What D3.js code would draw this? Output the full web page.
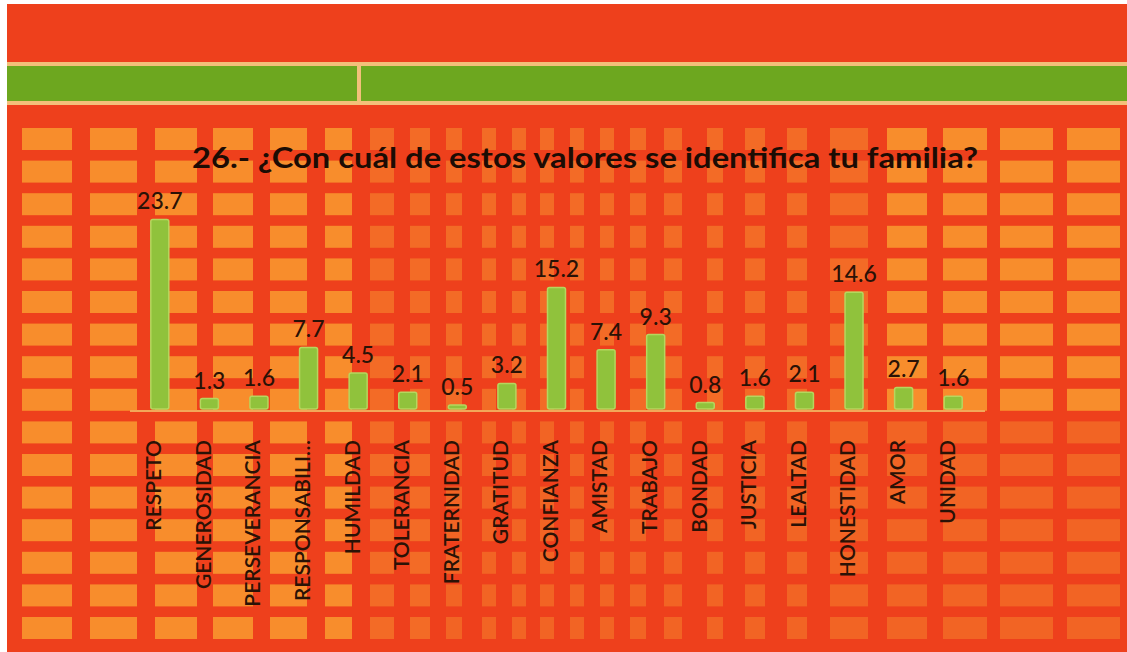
<!DOCTYPE html>
<html><head><meta charset="utf-8">
<script src="https://cdn.jsdelivr.net/npm/d3@7"></script>
<style>html,body{margin:0;padding:0;background:#fff;}svg{display:block;}</style>
</head><body>
<svg id="c" width="1127" height="652"></svg>
<script>
const title = "26.- ¿Con cuál de estos valores se identifica tu familia?";
const categories = ["RESPETO","GENEROSIDAD","PERSEVERANCIA","RESPONSABILI…","HUMILDAD","TOLERANCIA","FRATERNIDAD","GRATITUD","CONFIANZA","AMISTAD","TRABAJO","BONDAD","JUSTICIA","LEALTAD","HONESTIDAD","AMOR","UNIDAD"];
const values = [23.7,1.3,1.6,7.7,4.5,2.1,0.5,3.2,15.2,7.4,9.3,0.8,1.6,2.1,14.6,2.7,1.6];
const valueLabels = ["23.7","1.3","1.6","7.7","4.5","2.1","0.5","3.2","15.2","7.4","9.3","0.8","1.6","2.1","14.6","2.7","1.6"];

const svg = d3.select("#c");
const W = 1127, H = 652;

// background
svg.append("rect").attr("x",7).attr("y",4).attr("width",W-7).attr("height",H-4).attr("fill","#ee401c");

// decorative spreadsheet-like cells
const cellCols = [[22,72],[90,137],[155,197],[213,253],[270,307],[325,352],[370,394],[410,430],[446,462],[482,496],[512,526],[540,554],[570,584],[600,614],[630,646],[664,682],[707,723],[745,765],[787,807],[830,868],[887,927],[943,987],[1000,1053],[1067,1120]];
const rowStarts = d3.range(16).map(k => 128 + k*32.6);
const cells = svg.append("g");
cellCols.forEach((c,ci)=>{
  rowStarts.forEach((y,ri)=>{
    let op = 0.9;
    if (ci>=6 && ci<=19) op = 0.5;
    if (ri>=9 && ci>=8) op = Math.min(op,0.42);
    cells.append("rect").attr("x",c[0]).attr("y",y).attr("width",c[1]-c[0]).attr("height",22)
      .attr("fill","#f8962f").attr("opacity",op);
  });
});

// top band
svg.append("rect").attr("x",7).attr("y",62).attr("width",W-7).attr("height",43).attr("fill","#f3c07a");
svg.append("rect").attr("x",7).attr("y",66).attr("width",350).attr("height",35).attr("fill","#6da71f");
svg.append("rect").attr("x",361).attr("y",66).attr("width",W-361).attr("height",35).attr("fill","#6da71f");

// title
svg.append("text").attr("x",585).attr("y",168).attr("text-anchor","middle")
  .attr("font-family","Lato, 'Open Sans', sans-serif").attr("font-weight","bold")
  .attr("font-size",28).attr("fill","#1c0c04")
  .attr("textLength",786).attr("lengthAdjust","spacingAndGlyphs").text(title);

// scales
const x = d3.scaleBand().domain(categories).range([126,987]).paddingInner(0.637).paddingOuter(0.5);
const y = d3.scaleLinear().domain([0,25]).range([409,209]);

// baseline
svg.append("line").attr("x1",130).attr("x2",985).attr("y1",411).attr("y2",411)
  .attr("stroke","#f2a85a").attr("stroke-width",2);

// bars
svg.append("g").selectAll("rect").data(values).join("rect")
  .attr("x",(d,i)=>x(categories[i])).attr("width",x.bandwidth())
  .attr("y",d=>y(d)).attr("height",d=>y(0)-y(d))
  .attr("rx",2)
  .attr("fill","#90c23c").attr("stroke","#b6d65e").attr("stroke-width",1.5);

// value labels
svg.append("g").selectAll("text").data(values).join("text")
  .attr("x",(d,i)=>x(categories[i])+x.bandwidth()/2)
  .attr("y",d=>y(d)-10)
  .attr("text-anchor","middle")
  .attr("font-family","Lato, 'Open Sans', sans-serif").attr("font-size",23)
  .attr("font-weight",500)
  .attr("fill","#2a1206")
  .text((d,i)=>valueLabels[i]);

// category labels
svg.append("g").selectAll("text").data(categories).join("text")
  .attr("transform",d=>`translate(${x(d)+x.bandwidth()/2-6},440) rotate(-90)`)
  .attr("dy","0.35em").attr("text-anchor","end")
  .attr("font-family","Lato, 'Open Sans', sans-serif").attr("font-size",21)
  .attr("font-weight",600)
  .attr("fill","#2a1206")
  .text(d=>d);
</script>
</body></html>
